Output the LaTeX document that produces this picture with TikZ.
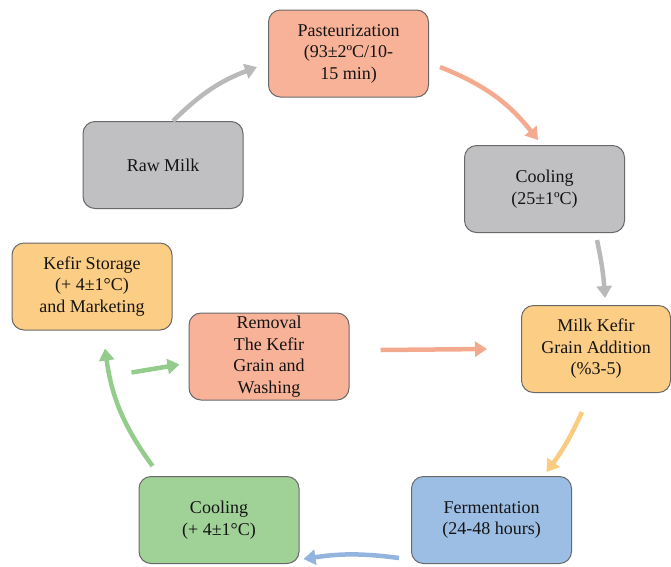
\documentclass[tikz,border=0pt]{standalone}
\usepackage{fontspec}
\setmainfont{Liberation Serif}
\usetikzlibrary{arrows.meta}
\newcommand{\boxw}{160pt}
\newcommand{\boxh}{87pt}
\newcommand{\arrw}{4.5pt}
\definecolor{boxline}{RGB}{105,105,105}
\definecolor{textdark}{RGB}{20,20,20}
\definecolor{salmonfill}{RGB}{248,178,152}
\definecolor{grayfill}{RGB}{192,192,194}
\definecolor{orangefill}{RGB}{252,205,132}
\definecolor{greenfill}{RGB}{160,210,152}
\definecolor{bluefill}{RGB}{157,190,228}
\definecolor{grayarr}{RGB}{185,185,185}
\definecolor{salmonarr}{RGB}{244,170,142}
\definecolor{orangearr}{RGB}{250,204,128}
\definecolor{bluearr}{RGB}{146,180,222}
\definecolor{greenarr}{RGB}{148,204,140}
\tikzset{
  stepbox/.style={draw=boxline, line width=1pt, rounded corners=12pt,
    minimum width=\boxw, minimum height=\boxh, align=center, inner sep=2pt,
    text=textdark, font=\fontsize{18}{21.5}\selectfont},
  flow/.style={line width=\arrw, -{Triangle[length=12pt,width=15pt]}},
}

\begin{document}
\begin{tikzpicture}[x=1pt, y=1pt]
    \useasboundingbox (0,0) rectangle (671,-566);

    % process steps
    \node[stepbox, fill=salmonfill] (past) at (348.5,-53.5) {Pasteurization\\(93±2ºC/10-\\15 min)};
    \node[stepbox, fill=grayfill] (raw) at (163,-165) {Raw Milk};
    \node[stepbox, fill=grayfill] (coolA) at (544.5,-189) {Cooling\\(25±1ºC)};
    \node[stepbox, fill=orangefill] (storage) at (92,-286.5) {Kefir Storage\\(+ 4±1°C)\\and Marketing};
    \node[stepbox, fill=salmonfill] (removal) at (269,-356.5) {Removal\\The Kefir\\Grain and\\Washing};
    \node[stepbox, fill=orangefill, minimum width=149pt] (grain) at (596,-349) {Milk Kefir\\Grain Addition\\(\%3-5)};
    \node[stepbox, fill=greenfill] (coolB) at (219,-520) {Cooling\\(+ 4±1°C)};
    \node[stepbox, fill=bluefill] (ferm) at (491.5,-520) {Fermentation\\(24-48 hours)};

    % arrows round the cycle
    \draw[flow, grayarr] ([xshift=10pt]raw.north) to[bend left=12] ([xshift=-11pt,yshift=-13.5pt]past.west);
    \draw[flow, salmonarr] ([xshift=11pt,yshift=-13.5pt]past.east) to[bend left=15] ([xshift=-6.5pt,yshift=5pt]coolA.north);
    \draw[flow, grayarr] ([xshift=52.5pt,yshift=-7pt]coolA.south) to[bend left=4] ([xshift=9pt,yshift=7pt]grain.north);
    \draw[flow, orangearr] ([xshift=-14pt,yshift=-19pt]grain.south) to[bend left=6] ([xshift=135.5pt,yshift=4pt]ferm.north west);
    \draw[flow, bluearr] ([xshift=-12pt,yshift=6pt]ferm.south west) to[bend right=8] ([xshift=4pt,yshift=5pt]coolB.south east);
    \draw[flow, greenarr] ([xshift=14pt,yshift=10pt]coolB.north west) to[bend left=14] ([xshift=13pt,yshift=-18pt]storage.south);
    \draw[flow, greenarr] ([xshift=-57pt,yshift=-16pt]removal.west) -- ([xshift=-9pt,yshift=-8pt]removal.west);
    \draw[flow, salmonarr] ([xshift=31pt,yshift=6.5pt]removal.east) -- ([xshift=-34pt]grain.west);
\end{tikzpicture}
\end{document}
